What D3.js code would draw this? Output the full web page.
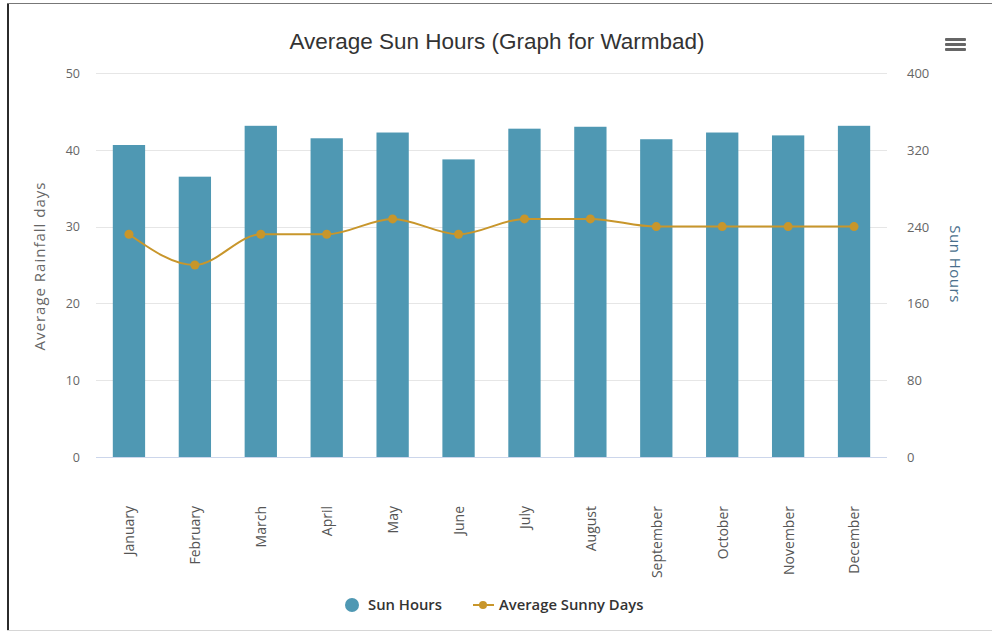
<!DOCTYPE html>
<meta charset="utf-8">
<title>Average Sun Hours</title>
<style>
    body {
        margin: 0;
        background: #fff;
    }

    .grid line {
        stroke: #e6e6e6;
        stroke-width: 1px;
    }

    .tick text {
        font-family: "Open Sans", sans-serif;
        font-size: 12.5px;
        fill: #666;
    }

    .sun-line {
        fill: none;
        stroke: #c8962b;
        stroke-width: 2px;
    }
</style>

<body>
    <svg id="chart"></svg>
</body>

<script src="https://cdnjs.cloudflare.com/ajax/libs/d3/7.8.5/d3.min.js"></script>
<script>
    // data
    var months = ["January", "February", "March", "April", "May", "June",
        "July", "August", "September", "October", "November", "December"];
    var sunHours = [325, 292, 345, 332, 338, 310, 342, 344, 331, 338, 335, 345];
    var sunnyDays = [29, 25, 29, 29, 31, 29, 31, 31, 30, 30, 30, 30];
    var leftTicks = [0, 10, 20, 30, 40, 50];
    var rightTicks = [0, 80, 160, 240, 320, 400];

    var width = 992,
        height = 631;

    var plot = {
        left: 96,
        right: 887,
        top: 73,
        bottom: 457
    };

    var barColor = "#4f98b3",
        lineColor = "#c8962b";

    var svg = d3.select("#chart")
        .attr("width", width)
        .attr("height", height);

    // frame round the picture
    svg.append("line")
        .attr("x1", 8).attr("x2", 8).attr("y1", 3).attr("y2", 631)
        .attr("stroke", "#2b2b2b").attr("stroke-width", 2);
    svg.append("line")
        .attr("x1", 7).attr("x2", 992).attr("y1", 3.5).attr("y2", 3.5)
        .attr("stroke", "#777").attr("stroke-width", 1);
    svg.append("line")
        .attr("x1", 7).attr("x2", 992).attr("y1", 630.5).attr("y2", 630.5)
        .attr("stroke", "#d6d6d6").attr("stroke-width", 1);

    var x = d3.scaleBand()
        .domain(months)
        .range([plot.left, plot.right])
        .paddingInner(0.51)
        .paddingOuter(0.255);

    var xCenter = d3.scalePoint()
        .domain(months)
        .range([plot.left, plot.right])
        .padding(0.5);

    var yLeft = d3.scaleLinear()
        .domain([0, 50])
        .range([plot.bottom, plot.top]);

    var yRight = d3.scaleLinear()
        .domain([0, 400])
        .range([plot.bottom, plot.top]);

    // grid lines
    svg.append("g")
        .attr("class", "grid")
        .selectAll("line")
        .data(leftTicks.filter(d => d > 0))
        .join("line")
        .attr("x1", plot.left)
        .attr("x2", plot.right)
        .attr("y1", d => Math.round(yLeft(d)) + 0.5)
        .attr("y2", d => Math.round(yLeft(d)) + 0.5);

    // left axis
    var leftAxis = svg.append("g")
        .attr("transform", "translate(" + (plot.left - 16) + ",0)")
        .call(d3.axisLeft(yLeft).tickValues(leftTicks).tickSize(0).tickPadding(0));
    leftAxis.select(".domain").remove();
    leftAxis.selectAll("text").attr("dy", "0.35em");

    // right axis
    var rightAxis = svg.append("g")
        .attr("transform", "translate(" + (plot.right + 20) + ",0)")
        .call(d3.axisRight(yRight).tickValues(rightTicks).tickSize(0).tickPadding(0));
    rightAxis.select(".domain").remove();
    rightAxis.selectAll("text").attr("dy", "0.35em").style("font-size", "13px");

    // bars
    svg.append("g")
        .selectAll("rect")
        .data(sunHours)
        .join("rect")
        .attr("x", (d, i) => x(months[i]))
        .attr("width", x.bandwidth())
        .attr("y", d => yRight(d))
        .attr("height", d => plot.bottom - yRight(d))
        .attr("fill", barColor);

    // bottom axis line
    svg.append("line")
        .attr("x1", plot.left).attr("x2", plot.right)
        .attr("y1", plot.bottom + 0.5).attr("y2", plot.bottom + 0.5)
        .attr("stroke", "#ccd6eb");

    // month labels
    var bottomAxis = svg.append("g")
        .attr("transform", "translate(0," + plot.bottom + ")")
        .call(d3.axisBottom(xCenter).tickSize(0).tickPadding(0));
    bottomAxis.select(".domain").remove();
    bottomAxis.selectAll("text")
        .attr("transform", "rotate(-90)")
        .attr("text-anchor", "end")
        .attr("x", -49)
        .attr("y", 0)
        .attr("dy", "0.35em")
        .style("font-size", "14px")
        .style("fill", "#555");

    // sunny days line
    var line = d3.line()
        .x((d, i) => xCenter(months[i]))
        .y(d => yLeft(d))
        .curve(d3.curveMonotoneX);

    svg.append("path")
        .datum(sunnyDays)
        .attr("class", "sun-line")
        .attr("d", line);

    svg.append("g")
        .selectAll("circle")
        .data(sunnyDays)
        .join("circle")
        .attr("cx", (d, i) => xCenter(months[i]))
        .attr("cy", d => yLeft(d))
        .attr("r", 4.5)
        .attr("fill", lineColor);

    // title
    svg.append("text")
        .attr("x", 497)
        .attr("y", 49)
        .attr("text-anchor", "middle")
        .style("font-family", "'Liberation Sans', Arial, sans-serif")
        .style("font-size", "22.5px")
        .style("fill", "#333")
        .text("Average Sun Hours (Graph for Warmbad)");

    // axis titles
    svg.append("text")
        .attr("transform", "translate(45,266) rotate(-90)")
        .attr("text-anchor", "middle")
        .style("font-family", "'Open Sans', sans-serif")
        .style("font-size", "15px")
        .style("letter-spacing", "1px")
        .style("fill", "#666")
        .text("Average Rainfall days");

    svg.append("text")
        .attr("transform", "translate(950,264) rotate(90)")
        .attr("text-anchor", "middle")
        .style("font-family", "'Open Sans', sans-serif")
        .style("font-size", "15px")
        .style("letter-spacing", "0.5px")
        .style("fill", "#4a6f8c")
        .text("Sun Hours");

    // menu icon
    svg.append("g")
        .selectAll("rect")
        .data([0, 1, 2])
        .join("rect")
        .attr("x", 945)
        .attr("y", d => 38 + d * 5)
        .attr("width", 21)
        .attr("height", 3)
        .attr("rx", 1)
        .attr("fill", "#666");

    // legend
    var legend = svg.append("g")
        .style("font-family", "'Open Sans', sans-serif")
        .style("font-size", "14.8px")
        .style("font-weight", "600")
        .style("fill", "#333");

    legend.append("circle")
        .attr("cx", 352).attr("cy", 605).attr("r", 7)
        .attr("fill", barColor);
    legend.append("text")
        .attr("x", 368).attr("y", 610)
        .text("Sun Hours");

    legend.append("line")
        .attr("x1", 473).attr("x2", 494).attr("y1", 605).attr("y2", 605)
        .attr("stroke", lineColor).attr("stroke-width", 2);
    legend.append("circle")
        .attr("cx", 483).attr("cy", 605).attr("r", 4)
        .attr("fill", lineColor);
    legend.append("text")
        .attr("x", 499).attr("y", 610)
        .text("Average Sunny Days");
</script>
